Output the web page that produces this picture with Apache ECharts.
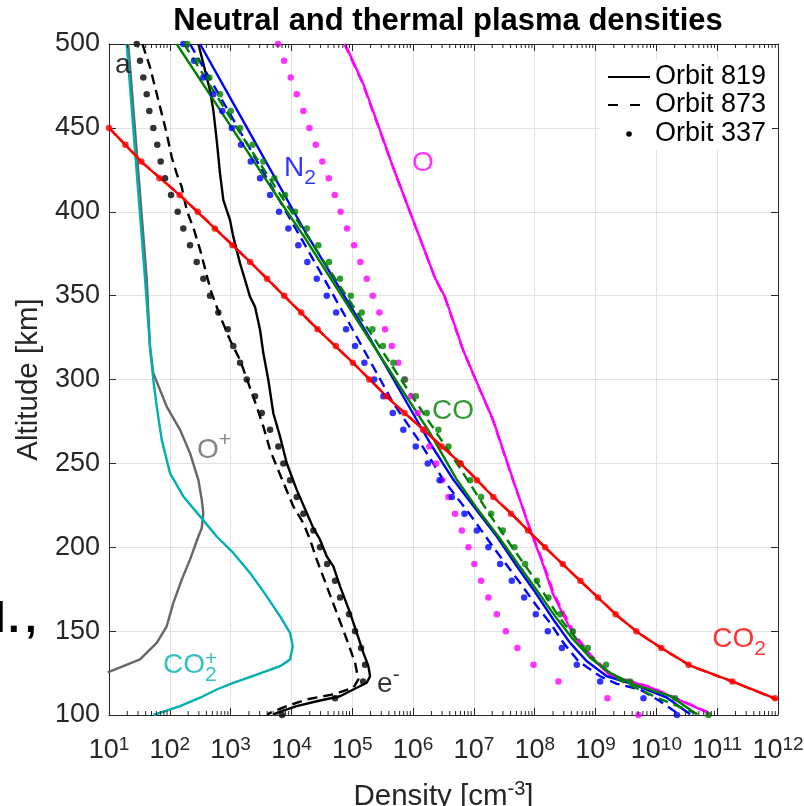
<!DOCTYPE html>
<html><head><meta charset="utf-8">
<script src="https://cdn.jsdelivr.net/npm/echarts@6/dist/echarts.min.js"></script>
<style>html,body{margin:0;padding:0;background:#fff}#c{width:804px;height:806px}</style>
</head><body><div id="c"></div>
<script>
// ---------- tick labels ----------
const xTickExponents = [1,2,3,4,5,6,7,8,9,10,11,12];
const yTicks = [100,150,200,250,300,350,400,450,500];
const xMinorTicks = [];
for (let n = 1; n < 12; n++) for (let k = 2; k <= 9; k++) xMinorTicks.push(k * Math.pow(10, n));

// ---------- data: altitude [km] and log10(density [cm^-3]) ----------
const alt10_500 = [500,490,480,470,460,450,440,430,420,410,400,390,380,370,360,350,340,330,320,310,300,290,280,270,260,250,240,230,220,210,200,190,180,170,160,150,140,130,120,110,100];
const alt10_450 = [450,440,430,420,410,400,390,380,370,360,350,340,330,320,310,300,290,280,270,260,250,240,230,220,210,200,190,180,170,160,150,140,130,120,110];

// CO2
const co2Alt = [450,428.7,409.8,390.0,370.1,349.3,328.5,309.7,288.8,270.0,250.3,230.1,220.6,199.9,189.6,178.9,168.8,158.7,149.1,139.6,129.5,120.0,109.3];
const co2Log819 = [1.0,1.564,2.168,2.743,3.319,3.895,4.470,5.018,5.594,6.169,6.773,7.316,7.595,8.171,8.467,8.780,9.076,9.372,9.701,10.095,10.556,11.247,11.987];
const co2Log873 = [1.0,1.57,2.17,2.75,3.32,3.90,4.47,5.02,5.60,6.17,6.78,7.32,7.60,8.17,8.47,8.78,9.08,9.37,9.70,10.09,10.55,11.24,11.98];
const co2Log337 = [1.00,1.27,1.53,1.83,2.16,2.46,2.74,3.03,3.32,3.60,3.88,4.16,4.43,4.73,5.01,5.28,5.56,5.86,6.17,6.47,6.78,7.05,7.32,7.61,7.89,8.17,8.46,8.75,9.04,9.33,9.67,10.08,10.53,11.25,11.95];

// O
const oAlt = [500,476.5,448.5,426.5,399.7,360.4,349.1,317.6,297.9,275.9,240.2,210.4,189.6,171.8,159.9,148.0,136.1,123.6,116.5,101.6];
const oLog819 = [4.882,5.178,5.457,5.671,5.951,6.362,6.526,6.822,7.053,7.316,7.645,7.924,8.138,8.303,8.467,8.632,8.878,9.240,9.898,10.836];
const oLog873 = [4.87,5.17,5.45,5.67,5.95,6.36,6.52,6.82,7.05,7.31,7.64,7.93,8.15,8.32,8.49,8.66,8.91,9.27,9.92,10.85];
const oLog337 = [3.780,3.878,3.988,4.087,4.196,4.294,4.400,4.508,4.614,4.712,4.808,4.914,5.030,5.133,5.238,5.337,5.446,5.539,5.650,5.758,5.868,5.967,6.077,6.173,6.268,6.378,6.477,6.581,6.691,6.801,6.910,7.008,7.118,7.238,7.377,7.525,7.715,7.979,8.390,9.196,9.706];

// N2
const n2Alt819 = [500,450,400,386,329.5,262.0,240.2,223.3,206.4,188.6,174.7,156.8,143.0,132.0,123.1,118.2,110.3,100.5];
const n2Log819 = [2.497,3.27,4.04,4.26,5.211,6.280,6.663,7.020,7.377,7.706,7.979,8.308,8.582,8.857,9.186,9.623,10.173,10.556];
const n2Alt873 = [500,380.1,334.4,285.8,264.0,240.2,219.4,198.5,178.7,164.8,154.9,143.0,132.0,123.1,118.6,115.2,108.2,101.3];
const n2Log873 = [2.332,4.224,4.936,5.676,6.087,6.498,6.938,7.349,7.760,8.035,8.253,8.472,8.719,9.076,9.350,9.734,10.063,10.337];
const n2Log337 = [2.222,2.398,2.551,2.715,2.863,3.018,3.171,3.331,3.484,3.648,3.796,3.949,4.113,4.261,4.416,4.581,4.734,4.898,5.046,5.199,5.359,5.512,5.666,5.840,6.044,6.242,6.436,6.637,6.844,7.048,7.238,7.431,7.623,7.826,8.018,8.215,8.446,8.692,9.076,9.788,10.337];

// CO
const coAlt819 = [500,450,400,385,329.5,268,240.2,223.3,206.4,189.6,175.7,158.8,146.0,134.1,125.1,118.2,111.2,100.4];
const coLog819 = [2.113,3.02,3.93,4.21,5.183,6.28,6.72,7.048,7.403,7.732,8.007,8.336,8.610,8.911,9.240,9.623,10.232,10.666];
const coAlt873 = [500,450,400,350,300,250,220,200,180,160,150,140,130,120,110,100];
const coLog873 = [2.234,3.10,4.00,4.90,5.80,6.72,7.25,7.63,8.02,8.37,8.58,8.80,9.05,9.44,10.03,10.72];
const coLog337 = [2.288,2.452,2.650,2.826,3.002,3.155,3.363,3.538,3.719,3.895,4.059,4.252,4.442,4.618,4.799,4.975,5.156,5.331,5.502,5.676,5.857,6.044,6.225,6.416,6.581,6.773,6.938,7.118,7.283,7.475,7.666,7.842,8.035,8.225,8.418,8.627,8.873,9.174,9.569,10.309,10.857];

// O+ (orbit 819)
const opAlt = [500,360.2,319.5,303.7,283.8,270.0,256.1,240.2,228.3,220.4,211.4,206.4,192.6,180.7,166.8,152.9,143.0,133.1,129.1,125.4];
const opLog = [1.317,1.620,1.674,1.729,1.949,2.168,2.332,2.469,2.525,2.551,2.525,2.469,2.332,2.196,2.058,1.949,1.785,1.510,1.235,0.98];

// CO2+ (orbit 819)
const co2pAlt = [500,360.2,319.5,299.7,283.8,264.0,244.2,230.3,218.4,206.4,196.6,184.7,170.7,158.8,148.9,141.0,133.1,129.1,124.1,119.2,115.2,110.3,105.3,100];
const co2pLog = [1.291,1.592,1.674,1.729,1.785,1.867,2.003,2.222,2.497,2.771,3.044,3.319,3.594,3.813,3.977,4.021,3.977,3.813,3.429,3.044,2.771,2.497,2.168,1.73];

// electrons
const eAlt819 = [500,492.1,472.3,460.4,442.6,422.7,406.9,395.0,385.0,369.2,359.3,349.3,343.3,329.5,315.6,299.7,279.9,265.9,250.1,234.2,220.4,211.4,204.5,194.5,188.6,176.7,160.9,148.9,137.0,129.1,123.1,119.2,115.2,111.2,108.2,105.3,102.3,100.4];
const eLog819 = [2.469,2.525,2.661,2.716,2.771,2.826,2.880,2.990,3.044,3.155,3.237,3.319,3.401,3.484,3.538,3.620,3.702,3.813,3.923,4.087,4.252,4.360,4.470,4.581,4.689,4.799,4.964,5.074,5.183,5.265,5.293,5.238,5.018,4.799,4.416,4.087,3.840,3.702];
const eAlt873 = [500,486.2,474.3,458.5,446.6,432.6,422.7,414.8,400.9,389.0,377.1,360.3,351.3,335.4,323.5,311.6,297.8,283.8,271.9,258.1,248.1,236.2,224.3,214.4,204.5,192.6,176.7,160.9,144.9,131.1,121.2,116.2,112.3,109.3,105.3,101.3,100];
const eLog873 = [1.55,1.674,1.757,1.867,1.949,2.031,2.113,2.196,2.278,2.40,2.50,2.62,2.689,2.854,2.990,3.155,3.291,3.429,3.538,3.648,3.758,3.895,4.031,4.196,4.306,4.416,4.581,4.745,4.910,5.046,5.100,5.018,4.689,4.252,3.923,3.648,3.60];
const eLog337 = [1.456,1.510,1.564,1.620,1.663,1.729,1.794,1.850,1.921,2.020,2.130,2.222,2.332,2.442,2.551,2.661,2.798,2.952,3.044,3.155,3.265,3.401,3.512,3.648,3.785,3.867,3.977,4.087,4.196,4.360,4.470,4.586,4.717,4.799,4.947,5.046,5.145,5.211,5.178,4.717,3.845];

// annotation anchors (data space: log10 density, altitude)
const annotations = [
  {text:'{m|a}', log:1.10, alt:487.2, color:'#000000'},
  {text:'{m|N}{sub|2}', log:3.878, alt:425.9, color:'#0000ff'},
  {text:'{m|O}', log:5.984, alt:428.9, color:'#ff00ff'},
  {text:'{m|CO}', log:6.312, alt:281.3, color:'#008000'},
  {text:'{m|O}{sup|+}', log:2.447, alt:258.0, color:'#666666'},
  {text:'{m|CO}{sub|2}', log:1.888, alt:129.5, color:'#00b0b0'},
  {text:'{sp|+}', log:2.58, alt:133.5, color:'#00b0b0'},
  {text:'{m|e}{sup|-}', log:5.408, alt:118.2, color:'#000000'},
  {text:'{m|CO}{sub|2}', log:10.918, alt:145.1, color:'#ff0000'}
];

// ---------- build ----------
const FONT = '"Liberation Sans", Arial, Helvetica, sans-serif';
const AX = '#262626';
const LW = 2.4;
const toPairs = (logs, alts) => logs.map((e, i) => [Math.pow(10, e), alts[i]]);

function solid(name, logs, alts, color) {
  return {type:'line', name, data:toPairs(logs, alts), showSymbol:false, symbol:'none', silent:true,
    lineStyle:{color, width:LW}, itemStyle:{color}, z:3};
}
function dashed(name, logs, alts, color) {
  return {type:'line', name, data:toPairs(logs, alts), showSymbol:false, symbol:'none', silent:true,
    lineStyle:{color, width:LW, type:[10,6]}, itemStyle:{color}, z:3};
}
function dots(name, logs, alts, color) {
  return {type:'scatter', name, data:toPairs(logs, alts), symbol:'circle', symbolSize:6.5, silent:true,
    itemStyle:{color}, z:4};
}

const series = [
  solid('O+ 819', opLog, opAlt, '#666666'),
  solid('CO2+ 819', co2pLog, co2pAlt, '#00b0b0'),
  solid('e 819', eLog819, eAlt819, '#000000'),
  dashed('e 873', eLog873, eAlt873, '#000000'),
  dots('e 337', eLog337, alt10_500, '#000000'),
  solid('O 819', oLog819, oAlt, '#ff00ff'),
  dashed('O 873', oLog873, oAlt, '#ff00ff'),
  dots('O 337', oLog337, alt10_500, '#ff00ff'),
  solid('N2 819', n2Log819, n2Alt819, '#0000ff'),
  dashed('N2 873', n2Log873, n2Alt873, '#0000ff'),
  dots('N2 337', n2Log337, alt10_500, '#0000ff'),
  solid('CO 819', coLog819, coAlt819, '#008000'),
  dashed('CO 873', coLog873, coAlt873, '#008000'),
  dots('CO 337', coLog337, alt10_500, '#008000'),
  solid('CO2 819', co2Log819, co2Alt, '#ff0000'),
  dashed('CO2 873', co2Log873, co2Alt, '#ff0000'),
  dots('CO2 337', co2Log337, alt10_450, '#ff0000'),
  {
    type:'custom', name:'minor ticks', silent:true, clip:false, z:10,
    data: xMinorTicks.map(v => [v, yTicks[0]]),
    renderItem: (params, api) => {
      const v = api.value(0);
      const pb = api.coord([v, yTicks[0]]);
      const pt = api.coord([v, yTicks[yTicks.length - 1]]);
      const st = {stroke:AX, lineWidth:1};
      return {type:'group', children:[
        {type:'line', shape:{x1:pb[0], y1:pb[1], x2:pb[0], y2:pb[1]-4}, style:st},
        {type:'line', shape:{x1:pt[0], y1:pt[1], x2:pt[0], y2:pt[1]+4}, style:st}
      ]};
    }
  },
  {
    type:'scatter', name:'labels', silent:true, symbolSize:0, z:20,
    data: annotations.map(a => ({value:[Math.pow(10, a.log), a.alt],
      label:{formatter:a.text, color:a.color}})),
    label:{show:true, position:[0,0], align:'left', verticalAlign:'middle', fontFamily:FONT,
      rich:{
        m:{fontSize:28, lineHeight:40, fontFamily:FONT},
        sub:{fontSize:21, lineHeight:6, verticalAlign:'bottom', fontFamily:FONT},
        sup:{fontSize:21, lineHeight:26, verticalAlign:'top', fontFamily:FONT},
        sp:{fontSize:21, fontFamily:FONT}
      }}
  }
];

const xCommon = {type:'log', logBase:10, min:Math.pow(10, xTickExponents[0]), max:Math.pow(10, xTickExponents[xTickExponents.length-1]), interval:1, splitNumber:11};
const chart = echarts.init(document.getElementById('c'), null, {renderer:'canvas'});
chart.setOption({
  animation:false,
  backgroundColor:'#ffffff',
  title:{text:'Neutral and thermal plasma densities', left:443, top:1, textAlign:'center',
    textStyle:{fontSize:31, fontWeight:'bold', color:'#000', fontFamily:FONT}},
  grid:{left:109, right:26, top:44, bottom:91, containLabel:false, outerBoundsMode:'none'},
  xAxis:[
    Object.assign({}, xCommon, {position:'bottom',
      axisLine:{show:true, onZero:false, lineStyle:{color:AX, width:1}},
      axisTick:{show:true, inside:true, length:7, lineStyle:{color:AX}},
      splitLine:{show:true, lineStyle:{color:'#e2e2e2', width:1}},
      axisLabel:{margin:20, color:AX, fontFamily:FONT,
        formatter: v => '{b|10}{s|' + Math.round(Math.log10(v)) + '}',
        rich:{b:{fontSize:27, lineHeight:32, color:AX, fontFamily:FONT},
              s:{fontSize:19, lineHeight:16, verticalAlign:'top', color:AX, fontFamily:FONT}}},
      name:'{m|Density [cm}{sup|-3}{m|]}', nameLocation:'middle', nameGap:64,
      nameTextStyle:{color:AX, fontFamily:FONT, rich:{
        m:{fontSize:29.5, lineHeight:36, color:AX, fontFamily:FONT},
        sup:{fontSize:20, lineHeight:12, verticalAlign:'top', color:AX, fontFamily:FONT}}}
    }),
    Object.assign({}, xCommon, {position:'top',
      axisLine:{show:true, onZero:false, lineStyle:{color:AX, width:1}},
      axisTick:{show:true, inside:true, length:7, lineStyle:{color:AX}},
      splitLine:{show:false}, axisLabel:{show:false}})
  ],
  yAxis:[
    {type:'value', min:yTicks[0], max:yTicks[yTicks.length-1], interval:50, position:'left',
      axisLine:{show:true, onZero:false, lineStyle:{color:AX, width:1}},
      axisTick:{show:true, inside:true, length:7, lineStyle:{color:AX}},
      splitLine:{show:true, lineStyle:{color:'#e2e2e2', width:1}},
      axisLabel:{fontSize:27, color:AX, margin:9, fontFamily:FONT},
      name:'Altitude [km]', nameLocation:'middle', nameGap:54,
      nameTextStyle:{fontSize:29.5, color:AX, fontFamily:FONT}},
    {type:'value', min:yTicks[0], max:yTicks[yTicks.length-1], interval:50, position:'right',
      axisLine:{show:true, onZero:false, lineStyle:{color:AX, width:1}},
      axisTick:{show:true, inside:true, length:7, lineStyle:{color:AX}},
      splitLine:{show:false}, axisLabel:{show:false}}
  ],
  graphic:[
    {type:'rect', shape:{x:600, y:60, width:172, height:90}, style:{fill:'#ffffff'}, z:50},
    {type:'line', shape:{x1:608, y1:77, x2:650, y2:77}, style:{stroke:'#000', lineWidth:2}, z:51},
    {type:'line', shape:{x1:608, y1:105, x2:650, y2:105}, style:{stroke:'#000', lineWidth:2, lineDash:[10,12]}, z:51},
    {type:'circle', shape:{cx:629, cy:134, r:2.8}, style:{fill:'#000'}, z:51},
    {type:'text', x:655, y:77, z:51, style:{text:'Orbit 819', fontSize:27, fontFamily:FONT, fill:'#000', verticalAlign:'middle'}},
    {type:'text', x:655, y:105, z:51, style:{text:'Orbit 873', fontSize:27, fontFamily:FONT, fill:'#000', verticalAlign:'middle'}},
    {type:'text', x:655, y:134, z:51, style:{text:'Orbit 337', fontSize:27, fontFamily:FONT, fill:'#000', verticalAlign:'middle'}},
    {type:'text', x:-6, y:620, style:{text:'l', fontSize:42, fontWeight:'bold', fontFamily:FONT, fill:'#000', verticalAlign:'middle'}},
    {type:'text', x:8, y:620, style:{text:'.', fontSize:42, fontWeight:'bold', fontFamily:FONT, fill:'#000', verticalAlign:'middle'}},
    {type:'text', x:25, y:620, style:{text:',', fontSize:42, fontWeight:'bold', fontFamily:FONT, fill:'#000', verticalAlign:'middle'}}
  ],
  series
});
</script></body></html>
